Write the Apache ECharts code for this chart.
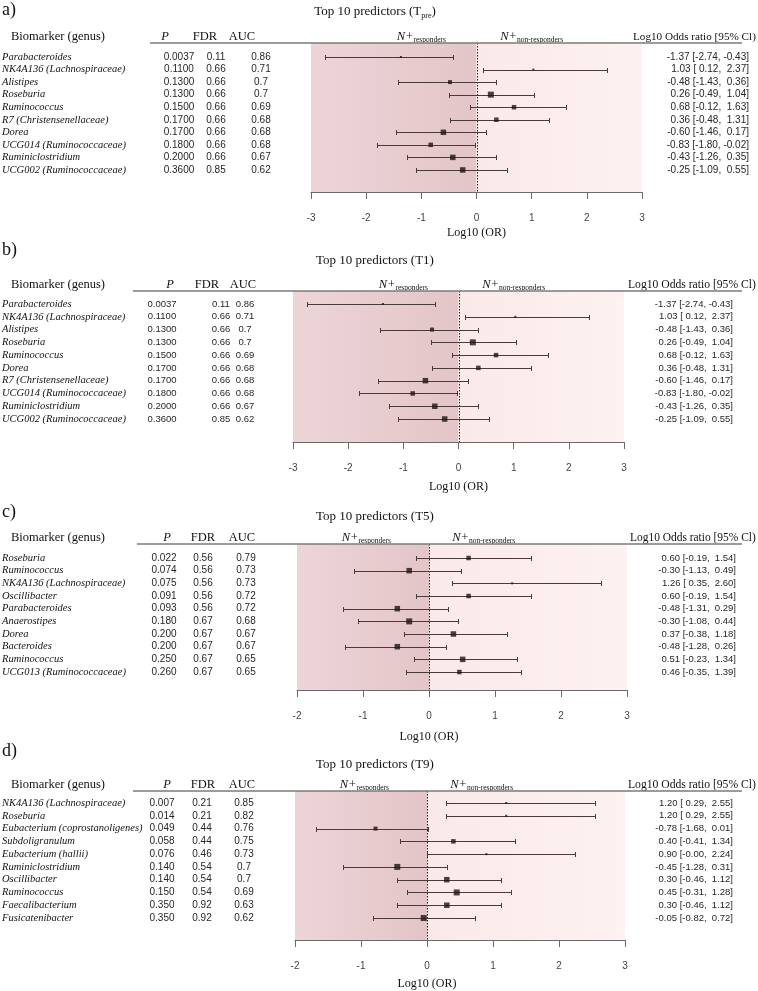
<!DOCTYPE html>
<html><head><meta charset="utf-8">
<script src="https://cdn.jsdelivr.net/npm/echarts@6/dist/echarts.min.js"></script>
<style>html,body{margin:0;padding:0;background:#fff}#c{width:758px;height:991px}</style>
</head><body><div id="c"></div>
<script>
// ---------------- DATA ----------------
const xTicks = [-3, -2, -1, 0, 1, 2, 3];

const namesA = ['Parabacteroides','NK4A136 (Lachnospiraceae)','Alistipes','Roseburia','Ruminococcus','R7 (Christensenellaceae)','Dorea','UCG014 (Ruminococcaceae)','Ruminiclostridium','UCG002 (Ruminococcaceae)'];
const pA   = ['0.0037','0.1100','0.1300','0.1300','0.1500','0.1700','0.1700','0.1800','0.2000','0.3600'];
const fdrA = ['0.11','0.66','0.66','0.66','0.66','0.66','0.66','0.66','0.66','0.85'];
const aucA = ['0.86','0.71','0.7','0.7','0.69','0.68','0.68','0.68','0.67','0.62'];
const orA  = [-1.37, 1.03, -0.48, 0.26, 0.68, 0.36, -0.60, -0.83, -0.43, -0.25];
const loA  = [-2.74, 0.12, -1.43, -0.49, -0.12, -0.48, -1.46, -1.80, -1.26, -1.09];
const hiA  = [-0.43, 2.37, 0.36, 1.04, 1.63, 1.31, 0.17, -0.02, 0.35, 0.55];
const wA   = [2, 2, 4, 6, 4.5, 4.5, 5.5, 4.5, 5.5, 5.5];

const namesB = ['Parabacteroides','NK4A136 (Lachnospiraceae)','Alistipes','Roseburia','Ruminococcus','Dorea','R7 (Christensenellaceae)','UCG014 (Ruminococcaceae)','Ruminiclostridium','UCG002 (Ruminococcaceae)'];
const pB   = ['0.0037','0.1100','0.1300','0.1300','0.1500','0.1700','0.1700','0.1800','0.2000','0.3600'];
const fdrB = ['0.11','0.66','0.66','0.66','0.66','0.66','0.66','0.66','0.66','0.85'];
const aucB = ['0.86','0.71','0.7','0.7','0.69','0.68','0.68','0.68','0.67','0.62'];
const orB  = [-1.37, 1.03, -0.48, 0.26, 0.68, 0.36, -0.60, -0.83, -0.43, -0.25];
const loB  = [-2.74, 0.12, -1.43, -0.49, -0.12, -0.48, -1.46, -1.80, -1.26, -1.09];
const hiB  = [-0.43, 2.37, 0.36, 1.04, 1.63, 1.31, 0.17, -0.02, 0.35, 0.55];
const wB   = [2, 2, 4, 6, 4.5, 4.5, 5.5, 4.5, 5.5, 5.5];

const namesC = ['Roseburia','Ruminococcus','NK4A136 (Lachnospiraceae)','Oscillibacter','Parabacteroides','Anaerostipes','Dorea','Bacteroides','Ruminococcus','UCG013 (Ruminococcaceae)'];
const pC   = ['0.022','0.074','0.075','0.091','0.093','0.180','0.200','0.200','0.250','0.260'];
const fdrC = ['0.56','0.56','0.56','0.56','0.56','0.67','0.67','0.67','0.67','0.67'];
const aucC = ['0.79','0.73','0.73','0.72','0.72','0.68','0.67','0.67','0.65','0.65'];
const orC  = [0.60, -0.30, 1.26, 0.60, -0.48, -0.30, 0.37, -0.48, 0.51, 0.46];
const loC  = [-0.19, -1.13, 0.35, -0.19, -1.31, -1.08, -0.38, -1.28, -0.23, -0.35];
const hiC  = [1.54, 0.49, 2.60, 1.54, 0.29, 0.44, 1.18, 0.26, 1.34, 1.39];
const wC   = [4.5, 5.5, 2, 4.5, 5.5, 6, 5.5, 5.5, 5.5, 4.5];

const namesD = ['NK4A136 (Lachnospiraceae)','Roseburia','Eubacterium (coprostanoligenes)','Subdoligranulum','Eubacterium (hallii)','Ruminiclostridium','Oscillibacter','Ruminococcus','Faecalibacterium','Fusicatenibacter'];
const pD   = ['0.007','0.014','0.049','0.058','0.076','0.140','0.140','0.150','0.350','0.350'];
const fdrD = ['0.21','0.21','0.44','0.44','0.46','0.54','0.54','0.54','0.92','0.92'];
const aucD = ['0.85','0.82','0.76','0.75','0.73','0.7','0.7','0.69','0.63','0.62'];
const orD  = [1.20, 1.20, -0.78, 0.40, 0.90, -0.45, 0.30, 0.45, 0.30, -0.05];
const loD  = [0.29, 0.29, -1.68, -0.41, -0.004, -1.28, -0.46, -0.31, -0.46, -0.82];
const hiD  = [2.55, 2.55, 0.01, 1.34, 2.24, 0.31, 1.12, 1.28, 1.12, 0.72];
const wD   = [2, 2, 4, 4.5, 2, 6, 5.5, 6, 5.5, 6];

const panelLabels = ['a)', 'b)', 'c)', 'd)'];
const titleMain = ['Top 10 predictors (T', 'Top 10 predictors (T1)', 'Top 10 predictors (T5)', 'Top 10 predictors (T9)'];
const titleSub  = ['pre', '', '', ''];
const titleTail = [')', '', '', ''];
const headName = 'Biomarker (genus)';
const headCols = ['P', 'FDR', 'AUC'];
const headOdds = 'Log10 Odds ratio [95% Cl)';
const xName = 'Log10 (OR)';
const respLbl = ['responders', 'non-responders'];

// ---------------- LAYOUT ----------------
const SERIF = '"Liberation Serif", "Times New Roman", serif';
const SANS = '"Liberation Sans", Arial, sans-serif';
const layouts = [
  {labelY:10, titleY:12, headY:37, lineX1:150, left:311, width:331, top:43, bottom:192, row0:57, step:12.55, xmin:-3, xmax:3,
   colHead:[165,205,242], colVal:[179,216,261], numFont:10, orRight:749, orFont:10, xLabY:233, oddsX:633, respAt:[-1,1]},
  {labelY:250, titleY:261, headY:285, lineX1:133, left:293, width:331, top:291, bottom:442, row0:304, step:12.78, xmin:-3, xmax:3,
   colHead:[170,207,243], colVal:[162,221,245], numFont:9.5, orRight:733, orFont:9.5, xLabY:487, oddsX:628, respAt:[-1,1]},
  {labelY:512, titleY:517, headY:538, lineX1:137, left:297, width:330, top:544, bottom:690, row0:558, step:12.67, xmin:-2, xmax:3,
   colHead:[167,203,242], colVal:[164,203,246], numFont:10, orRight:736, orFont:9.5, xLabY:737, oddsX:630, respAt:[-0.95,0.83]},
  {labelY:751, titleY:765, headY:785, lineX1:133, left:295, width:330, top:791, bottom:940, row0:803, step:12.78, xmin:-2, xmax:3,
   colHead:[167,203,242], colVal:[162,202,244], numFont:10, orRight:733, orFont:9.5, xLabY:984, oddsX:628, respAt:[-0.95,0.83]}
];

const panels = [
  {names:namesA, p:pA, fdr:fdrA, auc:aucA, or:orA, lo:loA, hi:hiA, w:wA},
  {names:namesB, p:pB, fdr:fdrB, auc:aucB, or:orB, lo:loB, hi:hiB, w:wB},
  {names:namesC, p:pC, fdr:fdrC, auc:aucC, or:orC, lo:loC, hi:hiC, w:wC},
  {names:namesD, p:pD, fdr:fdrD, auc:aucD, or:orD, lo:loD, hi:hiD, w:wD}
];

const CI_COLOR = '#4a3a3a';
const SQ_COLOR = '#1e1313';

const mctx = document.createElement('canvas').getContext('2d');
function tw(text, style, size, fam){ mctx.font = style + ' ' + size + 'px ' + fam; return mctx.measureText(text).width; }
function pad(v){ const s = v.toFixed(2); return s[0] === '-' ? s : ' ' + s; }
function orText(o, l, h){ return o.toFixed(2) + ' [' + pad(l) + ', ' + pad(h) + ']'; }
function crisp(v){ return Math.round(v) + 0.5; }

const chart = echarts.init(document.getElementById('c'), null, {renderer:'canvas'});
const grid = [], xAxis = [], yAxis = [], series = [], graphic = [];

panels.forEach((P, k) => {
  const L = layouts[k];
  grid.push({left:L.left, top:L.top, width:L.width, height:L.bottom - L.top, containLabel:false});
  xAxis.push({type:'value', gridIndex:k, min:L.xmin, max:L.xmax, interval:1,
    axisLine:{show:true, onZero:false, lineStyle:{color:'#6a6a6a', width:1}},
    axisTick:{show:true, inside:false, length:7, lineStyle:{color:'#6a6a6a'}},
    axisLabel:{margin:21, fontSize:10, fontFamily:SANS, color:'#444',
      formatter: v => xTicks.indexOf(v) >= 0 ? String(v) : ''},
    splitLine:{show:false}});
  const yMin = (L.top - L.row0) / L.step, yMax = (L.bottom - L.row0) / L.step;
  yAxis.push({type:'value', gridIndex:k, inverse:true, min:yMin, max:yMax, show:false, splitLine:{show:false}});

  // background regions + dotted zero line
  series.push({type:'custom', xAxisIndex:k, yAxisIndex:k, z:0, silent:true, data:[[0]],
    renderItem:(params, api) => {
      const a = api.coord([L.xmin, yMin]), z0 = api.coord([0, yMax]), b = api.coord([L.xmax, yMax]);
      return {type:'group', children:[
        {type:'rect', shape:{x:a[0], y:a[1], width:z0[0]-a[0], height:z0[1]-a[1]},
          style:{fill:{type:'linear', x:0, y:0, x2:1, y2:0, colorStops:[{offset:0, color:'#edd5d7'},{offset:1, color:'#e3c5c8'}]}}},
        {type:'rect', shape:{x:z0[0], y:a[1], width:b[0]-z0[0], height:z0[1]-a[1]},
          style:{fill:{type:'linear', x:0, y:0, x2:1, y2:0, colorStops:[{offset:0, color:'#fae9e9'},{offset:1, color:'#fdf2f1'}]}}},
        {type:'line', shape:{x1:crisp(z0[0]), y1:a[1], x2:crisp(z0[0]), y2:z0[1]},
          style:{stroke:'#222', lineWidth:1, lineDash:[1.5, 1.5]}}
      ]};
    }});

  // confidence intervals
  series.push({type:'custom', xAxisIndex:k, yAxisIndex:k, z:2, silent:true,
    data: P.lo.map((l, i) => [l, P.hi[i], i]),
    renderItem:(params, api) => {
      const p1 = api.coord([api.value(0), api.value(2)]);
      const p2 = api.coord([api.value(1), api.value(2)]);
      const y = crisp(p1[1]), h = 2.5;
      const x1 = crisp(p1[0]), x2 = crisp(p2[0]);
      const st = {stroke:CI_COLOR, lineWidth:1};
      return {type:'group', children:[
        {type:'line', shape:{x1:x1, y1:y, x2:x2, y2:y}, style:st},
        {type:'line', shape:{x1:x1, y1:y-h, x2:x1, y2:y+h}, style:st},
        {type:'line', shape:{x1:x2, y1:y-h, x2:x2, y2:y+h}, style:st}
      ]};
    }});

  // point estimates
  series.push({type:'scatter', xAxisIndex:k, yAxisIndex:k, z:3, silent:true, symbol:'rect',
    data: P.or.map((o, i) => [o, i]),
    symbolSize:(v, prm) => P.w[prm.dataIndex],
    itemStyle:{color:SQ_COLOR}, emphasis:{disabled:true}});

  // table text per row
  series.push({type:'custom', xAxisIndex:k, yAxisIndex:k, z:4, silent:true, clip:false,
    data: P.names.map((n, i) => [0, i]),
    renderItem:(params, api) => {
      const i = params.dataIndex;
      const y = api.coord([0, api.value(1)])[1];
      const t = (x, text, extra) => ({type:'text', x:x, y:y, style:Object.assign({text:text, verticalAlign:'middle', fill:'#262626', fontSize:L.numFont, fontFamily:SANS, align:'center'}, extra||{})});
      return {type:'group', children:[
        t(2, P.names[i], {align:'left', fontFamily:SERIF, fontStyle:'italic', fontSize:10.5, fill:'#111'}),
        t(L.colVal[0], P.p[i]),
        t(L.colVal[1], P.fdr[i]),
        t(L.colVal[2], P.auc[i]),
        t(L.orRight, orText(P.or[i], P.lo[i], P.hi[i]), {align:'right', fontSize:L.orFont})
      ]};
    }});

  // static graphics
  const px = v => L.left + (v - L.xmin) / (L.xmax - L.xmin) * L.width;
  graphic.push({type:'text', x:2, y:L.labelY, style:{text:panelLabels[k], fontSize:18, fontFamily:SERIF, fill:'#111', verticalAlign:'middle'}});
  // title
  const w1 = tw(titleMain[k], 'normal', 13, SERIF), w2 = tw(titleSub[k], 'normal', 8, SERIF), w3 = tw(titleTail[k], 'normal', 13, SERIF);
  let tx = 375 - (w1 + w2 + w3) / 2;
  graphic.push({type:'text', x:tx, y:L.titleY, style:{text:titleMain[k], fontSize:13, fontFamily:SERIF, fill:'#111', verticalAlign:'middle'}});
  if (titleSub[k]) {
    graphic.push({type:'text', x:tx + w1, y:L.titleY + 4, style:{text:titleSub[k], fontSize:8, fontFamily:SERIF, fill:'#111', verticalAlign:'middle'}});
    graphic.push({type:'text', x:tx + w1 + w2, y:L.titleY, style:{text:titleTail[k], fontSize:13, fontFamily:SERIF, fill:'#111', verticalAlign:'middle'}});
  }
  // headers
  graphic.push({type:'text', x:58, y:L.headY, style:{text:headName, fontSize:12.5, fontFamily:SERIF, fill:'#111', align:'center', verticalAlign:'middle'}});
  headCols.forEach((h, j) => {
    graphic.push({type:'text', x:L.colHead[j], y:L.headY, style:{text:h, fontSize:12.5, fontFamily:SERIF, fontStyle: j === 0 ? 'italic' : 'normal', fill:'#111', align:'center', verticalAlign:'middle'}});
  });
  const oddsW = tw(headOdds, 'normal', 12.5, SERIF);
  const oddsFs = Math.min(12.5, 12.5 * (756 - L.oddsX) / oddsW);
  graphic.push({type:'text', x:L.oddsX, y:L.headY, style:{text:headOdds, fontSize:oddsFs, fontFamily:SERIF, fill:'#111', align:'left', verticalAlign:'middle'}});
  respLbl.forEach((r, j) => {
    const a = tw('N+', 'italic', 12.5, SERIF), b = tw(r, 'normal', 7.5, SERIF);
    const cx = px(L.respAt[j]);
    const x0 = cx - (a + b) / 2;
    graphic.push({type:'text', x:x0, y:L.headY, style:{text:'N+', fontSize:12.5, fontFamily:SERIF, fontStyle:'italic', fill:'#111', verticalAlign:'middle'}});
    graphic.push({type:'text', x:x0 + a, y:L.headY + 3.5, style:{text:r, fontSize:7.5, fontFamily:SERIF, fill:'#111', verticalAlign:'middle'}});
  });
  graphic.push({type:'line', shape:{x1:L.lineX1, y1:L.top, x2:742, y2:L.top}, style:{stroke:'#7a7a7a', lineWidth:1.5}, z:10});
  graphic.push({type:'text', x:px(0), y:L.xLabY, style:{text:xName, fontSize:12, fontFamily:SERIF, fill:'#111', align:'center', verticalAlign:'middle'}});
});

chart.setOption({animation:false, backgroundColor:'#fff', grid, xAxis, yAxis, series, graphic});
</script></body></html>
